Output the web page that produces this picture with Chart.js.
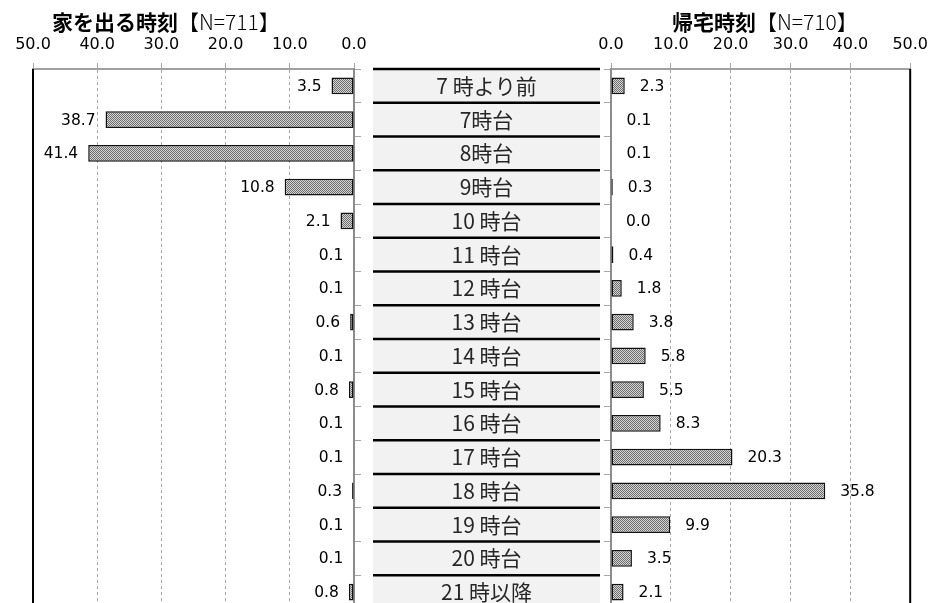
<!DOCTYPE html>
<html>
<head>
<meta charset="utf-8">
<script src="https://cdn.jsdelivr.net/npm/chart.js@4/dist/chart.umd.min.js"></script>
<style>
  html, body { margin: 0; padding: 0; background: #fff; overflow: hidden; width: 930px; height: 603px; }
  .box { position: absolute; top: 0; }
</style>
</head>
<body>
<div class="box" style="left:0;width:366px;height:609px"><canvas id="leftChart"></canvas></div>
<div class="box" style="left:362px;width:575px;height:609px"><canvas id="rightChart"></canvas></div>
<script>
// data
const categories = ["7 時より前", "7時台", "8時台", "9時台", "10 時台", "11 時台", "12 時台", "13 時台",
  "14 時台", "15 時台", "16 時台", "17 時台", "18 時台", "19 時台", "20 時台", "21 時以降"];
const leaveValues = [3.5, 38.7, 41.4, 10.8, 2.1, 0.1, 0.1, 0.6, 0.1, 0.8, 0.1, 0.1, 0.3, 0.1, 0.1, 0.8];
const returnValues = [2.3, 0.1, 0.1, 0.3, 0.0, 0.4, 1.8, 3.8, 5.8, 5.5, 8.3, 20.3, 35.8, 9.9, 3.5, 2.1];
const xTicks = [0, 10, 20, 30, 40, 50];
const leftTitle = ["家を出る時刻", "【N=711】"];
const rightTitle = ["帰宅時刻", "【N=710】"];

// dotted bar fill
function makePattern() {
  const c = document.createElement("canvas");
  c.width = 2; c.height = 2;
  const g = c.getContext("2d");
  g.fillStyle = "#d4d4d4"; g.fillRect(0, 0, 2, 2);
  g.fillStyle = "#6e6e6e"; g.fillRect(0, 0, 1, 1); g.fillRect(1, 1, 1, 1);
  return g.createPattern(c, "repeat");
}
const barFill = makePattern();

const jpFont = "'Noto Sans CJK JP', 'Noto Sans', sans-serif";
const numFont = "'DejaVu Sans', Verdana, sans-serif";

// title drawn in two weights
function titlePlugin(parts, offset) {
  return {
    id: "twoPartTitle",
    afterDraw: (chart) => {
      const ctx = chart.ctx;
      const x0 = chart.chartArea.left + offset;
      ctx.save();
      ctx.textBaseline = "middle";
      ctx.textAlign = "left";
      ctx.fillStyle = "#000";
      ctx.font = "bold 21px " + jpFont;
      ctx.fillText(parts[0], x0, 22);
      const w = ctx.measureText(parts[0]).width;
      ctx.font = "300 21px " + jpFont;
      ctx.fillText(parts[1], x0 + w, 22);
      ctx.restore();
    },
  };
}

// values next to bars
function valueLabels(side) {
  return {
    id: "valueLabels",
    afterDatasetsDraw: (chart) => {
      const ctx = chart.ctx;
      const meta = chart.getDatasetMeta(0);
      const vals = chart.data.datasets[0].data;
      ctx.save();
      ctx.font = "15.5px " + numFont;
      ctx.fillStyle = "#000";
      ctx.textBaseline = "middle";
      meta.data.forEach((bar, i) => {
        const txt = vals[i].toFixed(1);
        if (side === "left") {
          ctx.textAlign = "right";
          ctx.fillText(txt, bar.x - 10, bar.y + 1);
        } else {
          ctx.textAlign = "left";
          ctx.fillText(txt, bar.x + 15, bar.y + 1);
        }
      });
      ctx.restore();
    },
  };
}

// solid outer frame line
function frameLine(side) {
  return {
    id: "frameLine",
    afterDraw: (chart) => {
      const a = chart.chartArea;
      const x = side === "left" ? a.left : a.right;
      const ctx = chart.ctx;
      ctx.save();
      ctx.strokeStyle = "#000";
      ctx.lineWidth = 2;
      ctx.beginPath();
      ctx.moveTo(x, a.top);
      ctx.lineTo(x, a.bottom);
      ctx.stroke();
      ctx.restore();
    },
  };
}

// center category boxes
const centerLabels = {
  id: "centerLabels",
  beforeDraw: (chart) => {
    const ctx = chart.ctx;
    const y = chart.scales.y;
    const a = chart.chartArea;
    const rowH = y.height / categories.length;
    const x1 = a.left - 238, x2 = a.left - 11;
    ctx.save();
    ctx.fillStyle = "#f2f2f2";
    ctx.fillRect(x1, y.top, x2 - x1, y.height);
    ctx.strokeStyle = "#000";
    ctx.lineWidth = 2.5;
    for (let i = 0; i <= categories.length; i++) {
      const yy = y.top + i * rowH;
      ctx.beginPath();
      ctx.moveTo(x1, yy);
      ctx.lineTo(x2, yy);
      ctx.stroke();
    }
    ctx.fillStyle = "#262626";
    ctx.font = "21px " + jpFont;
    ctx.textAlign = "center";
    ctx.textBaseline = "middle";
    categories.forEach((c, i) => {
      ctx.fillText(c, (x1 + x2) / 2, y.getPixelForValue(i));
    });
    ctx.restore();
  },
};

function xScale(reverse) {
  return {
    position: "top",
    min: 0,
    max: 50,
    reverse: reverse,
    afterBuildTicks: (s) => { s.ticks = xTicks.map((v) => ({ value: v })); },
    afterFit: (s) => { s.height = 69; },
    ticks: {
      padding: 9,
      color: "#000",
      font: { family: numFont, size: 16 },
      callback: (v) => Number(v).toFixed(1),
      maxRotation: 0,
    },
    grid: { color: "#a6a6a6", tickLength: 6, lineWidth: 1, tickColor: "#a6a6a6", tickBorderDash: [] },
    border: { display: true, color: "#a0a0a0", width: 2, dash: [3, 3] },
  };
}

function yScale(position, width) {
  return {
    position: position,
    afterFit: (s) => { s.width = width; },
    ticks: { display: false },
    grid: { drawOnChartArea: false, tickLength: 7, color: "#a6a6a6", offset: true },
    border: { display: true, color: "#8c8c8c", width: 2 },
  };
}

function barDataset(values) {
  return {
    data: values,
    backgroundColor: barFill,
    borderColor: "#111",
    borderWidth: 1.5,
    borderSkipped: false,
    categoryPercentage: 1,
    barPercentage: 0.5,
  };
}

const common = {
  indexAxis: "y",
  responsive: true,
  maintainAspectRatio: false,
  animation: false,
  plugins: { legend: { display: false }, tooltip: { enabled: false }, title: { display: false } },
};

new Chart(document.getElementById("leftChart"), {
  type: "bar",
  data: { labels: categories, datasets: [barDataset(leaveValues)] },
  options: {
    ...common,
    layout: { padding: { left: 33, right: 0, top: 0, bottom: 0 } },
    scales: { x: xScale(true), y: yScale("right", 12) },
  },
  plugins: [titlePlugin(leftTitle, 19), valueLabels("left"), frameLine("left")],
});

new Chart(document.getElementById("rightChart"), {
  type: "bar",
  data: { labels: categories, datasets: [barDataset(returnValues)] },
  options: {
    ...common,
    layout: { padding: { left: 0, right: 20, top: 0, bottom: 0 } },
    scales: { x: xScale(false), y: yScale("left", 249) },
  },
  plugins: [centerLabels, titlePlugin(rightTitle, 61), valueLabels("right"), frameLine("right")],
});
</script>
</body>
</html>
